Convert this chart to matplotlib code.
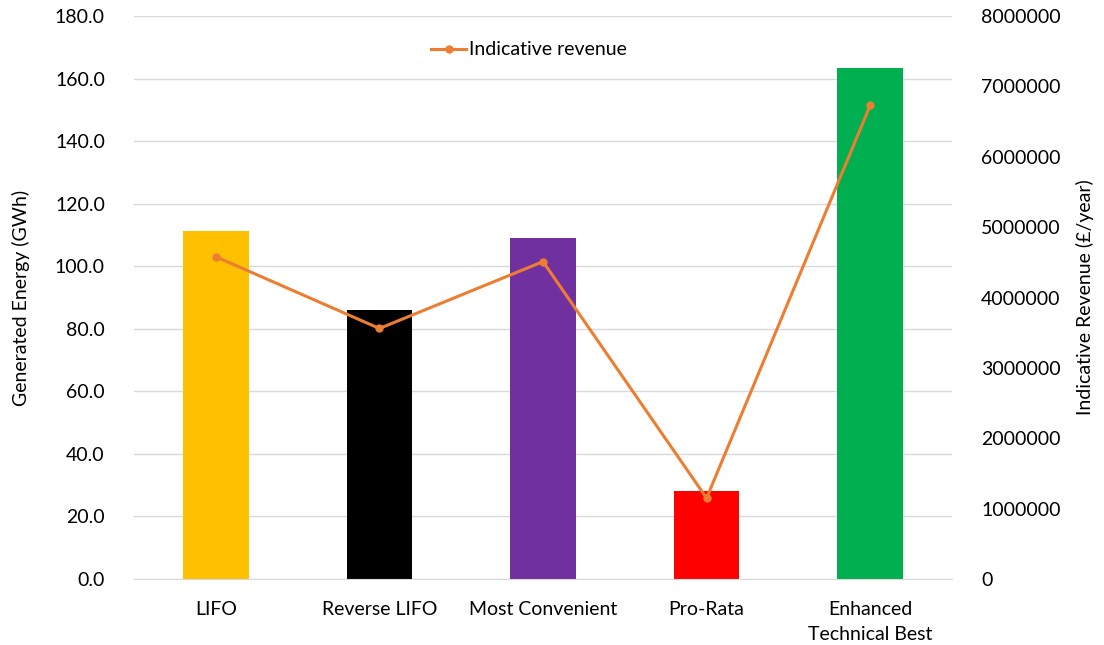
import matplotlib
matplotlib.use("Agg")
import matplotlib.pyplot as plt
from matplotlib.ticker import FuncFormatter, MultipleLocator

categories = ["LIFO", "Reverse LIFO", "Most Convenient", "Pro-Rata", "Enhanced\nTechnical Best"]
energy_gwh = [111.4, 86.1, 109.1, 28.2, 163.5]
revenue = [4580000, 3560000, 4510000, 1150000, 6730000]
bar_colors = ["#FFC000", "#000000", "#7030A0", "#FF0000", "#00B050"]

plt.rcParams["font.family"] = ["Lato", "DejaVu Sans"]
text_color = "#000000"
grid_color = "#D9D9D9"
line_color = "#ED7D31"
fs = 14

fig = plt.figure(figsize=(11.04, 6.45), dpi=100)
ax = fig.add_axes([0.1214, 0.1023, 0.7409, 0.8729])
x = list(range(len(categories)))
ax.bar(x, energy_gwh, width=0.40, color=bar_colors, zorder=2)
ax.set_xlim(-0.5, len(categories) - 0.5)
ax.set_ylim(0, 180)
ax.yaxis.set_major_locator(MultipleLocator(20))
ax.yaxis.set_major_formatter(FuncFormatter(lambda v, p: f"{v:.1f}"))
ax.grid(axis="y", color=grid_color, linewidth=1.0, zorder=0)
ax.set_axisbelow(True)
for s in ["top", "left", "right"]:
    ax.spines[s].set_visible(False)
ax.spines["bottom"].set_color(grid_color)
ax.tick_params(axis="both", length=0, labelsize=fs, colors=text_color)
ax.tick_params(axis="y", pad=21)
ax.tick_params(axis="x", pad=16)
ax.set_xticks(x)
ax.set_xticklabels(categories, linespacing=1.55)
ax.set_ylabel("Generated Energy (GWh)", fontsize=fs, labelpad=18)

ax2 = ax.twinx()
ax2.plot(x, revenue, color=line_color, linewidth=2.2, marker="o", markersize=5,
         label="Indicative revenue", zorder=3)
ax2.set_ylim(0, 8000000)
ax2.yaxis.set_major_locator(MultipleLocator(1000000))
ax2.yaxis.set_major_formatter(FuncFormatter(lambda v, p: f"{int(v)}"))
for s in ["top", "left", "right", "bottom"]:
    ax2.spines[s].set_visible(False)
ax2.tick_params(axis="y", length=0, labelsize=fs, colors=text_color, pad=21)
ax2.set_ylabel("Indicative Revenue (£/year)", fontsize=fs, labelpad=11)

ax2.legend(loc="upper center", bbox_to_anchor=(0.483, 0.986), frameon=False,
           fontsize=fs, handlelength=1.8, handletextpad=0.15)

fig.savefig("out.png", dpi=100)
